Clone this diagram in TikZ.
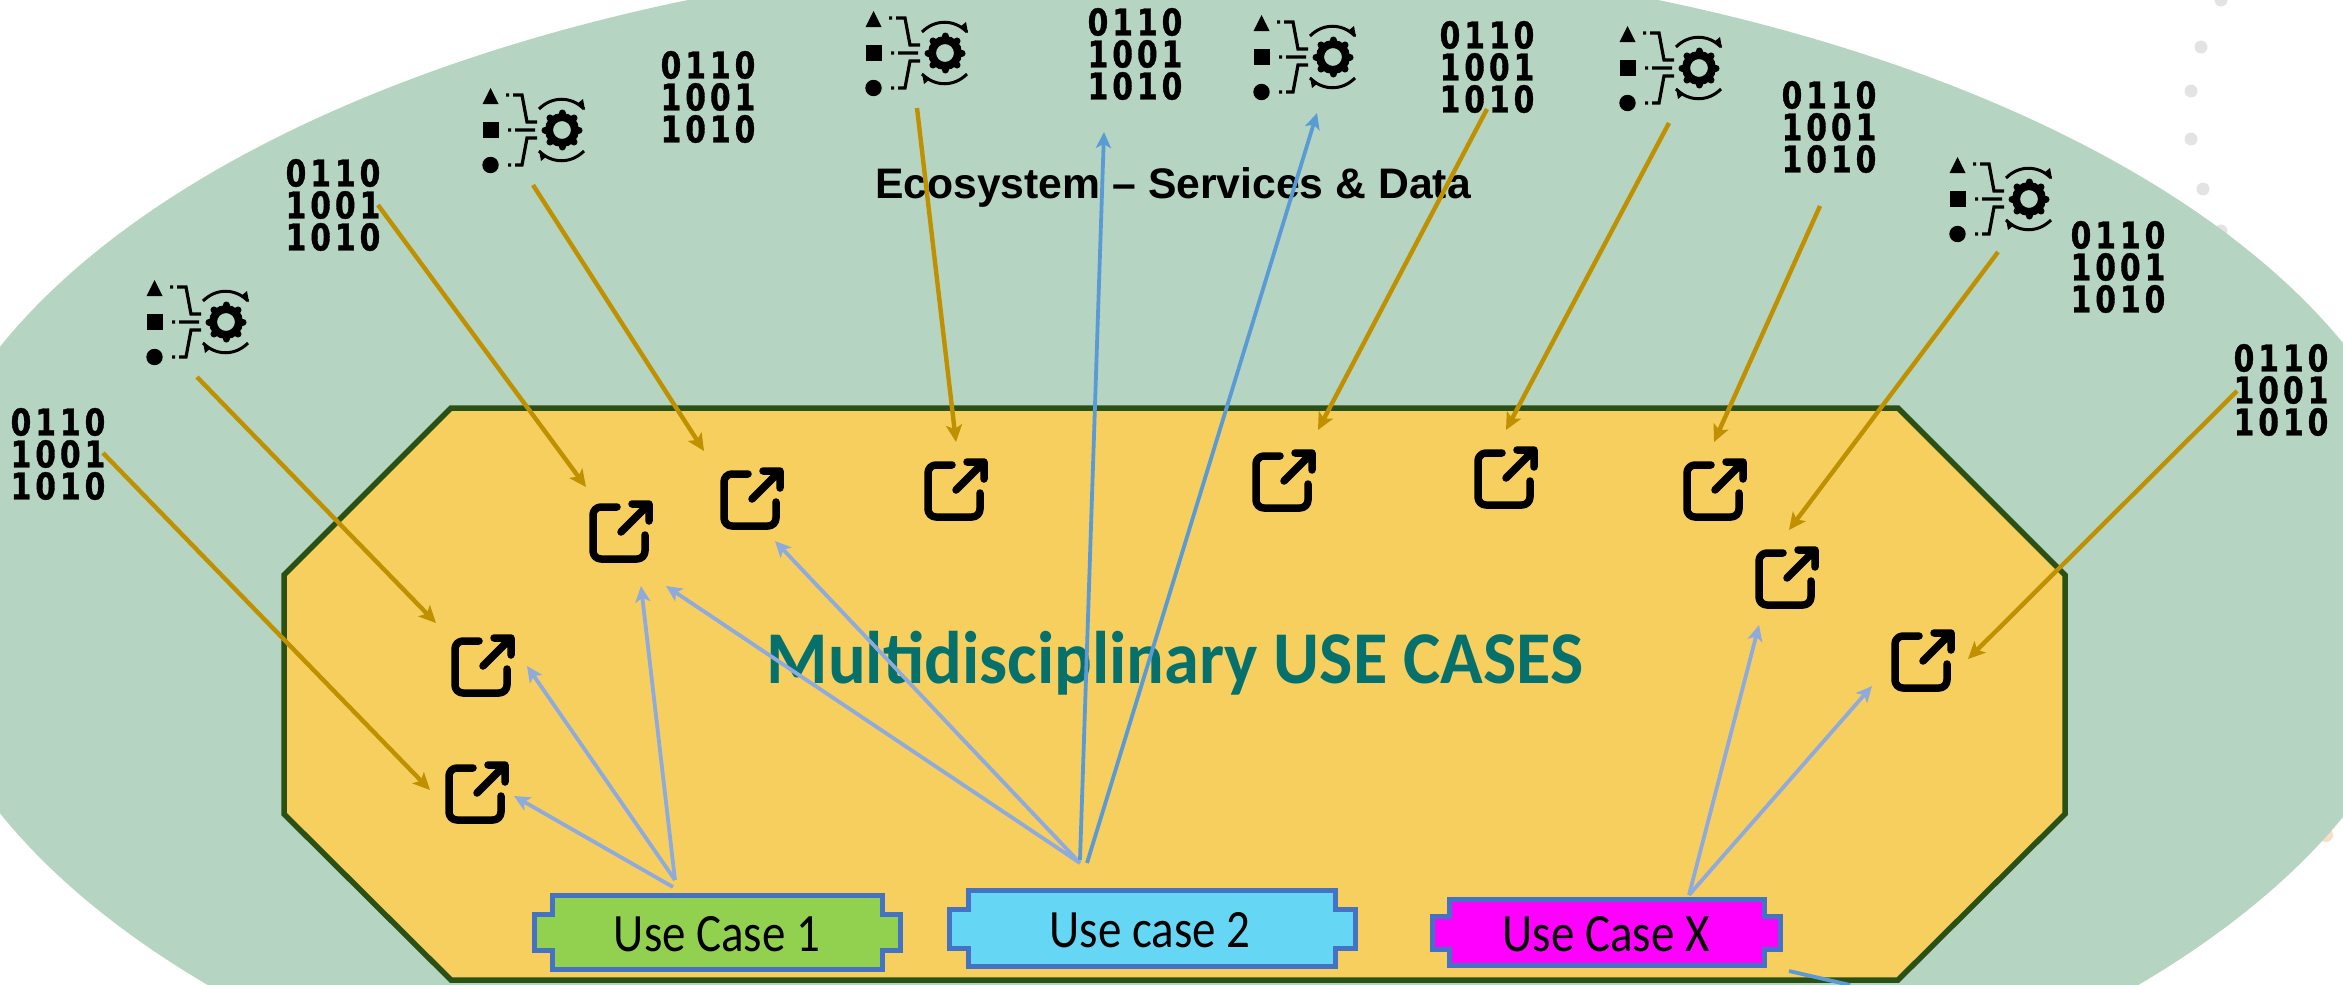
\documentclass[tikz,border=0pt]{standalone}
\usepackage{fontspec}
\usetikzlibrary{arrows.meta}
\setmainfont{Carlito}
\newfontfamily\arialfont{Liberation Sans}
\newfontfamily\binfont{DejaVu Sans}[FakeStretch=0.8,LetterSpace=11,FakeBold=1]
\newfontfamily\ucfont{Carlito}[FakeStretch=0.87]
\newfontfamily\mdfont{Carlito}[FakeStretch=0.945]
\definecolor{eco}{HTML}{B5D5C2}
\definecolor{octfill}{HTML}{F6CF5F}
\definecolor{octline}{HTML}{2B5014}
\definecolor{gold}{HTML}{BF9000}
\definecolor{bluelight}{HTML}{8FAADC}
\definecolor{bluedark}{HTML}{5B9BD5}
\definecolor{ucline}{HTML}{4472C4}
\definecolor{ucone}{HTML}{92D050}
\definecolor{uctwo}{HTML}{66D6F5}
\definecolor{ucx}{HTML}{FF00FF}
\definecolor{teal}{HTML}{05706C}
\definecolor{dotgrey}{HTML}{E3E3E3}
\definecolor{dotpeach}{HTML}{FBDCC4}
\tikzset{
  x=1pt,y=-1pt,
  binary/.style={inner sep=0pt,align=center,font={\binfont\bfseries\fontsize{37}{32}\selectfont}},
  goldarrow/.style={draw=gold,line width=4.4pt,-{Stealth[length=17pt,width=16pt,inset=4pt]}},
  lightarrow/.style={draw=bluelight,line width=3.8pt,-{Stealth[length=16pt,width=15pt,inset=4pt]}},
  darkarrow/.style={draw=bluedark,line width=3.8pt,-{Stealth[length=16pt,width=15pt,inset=4pt]}},
  ucbox/.style={draw=ucline,line width=5.5pt,miter limit=10},
  uclabel/.style={inner sep=0pt,font={\ucfont\fontsize{54}{56}\selectfont}},
  linkicon/.pic={
    \draw[black,line width=7.5pt,line cap=round,line join=round,rounded corners=8pt]
      (-4,-24) -- (-28,-24) -- (-28,28) -- (24,28) -- (24,4);
    \draw[black,line width=7.5pt,line cap=round,line join=round]
      (0,1) -- (28,-27) (11,-27) -- (28,-27) -- (28,-10);
  },
  flowicon/.pic={
    \fill[black] (-42.5,-42) -- (-34.5,-26) -- (-50.5,-26) -- cycle;
    \fill[black] (-50,-8) rectangle (-34.5,8);
    \fill[black] (-42.5,35) circle (8.2);
    \draw[black,line width=3.2pt]
      (-27,-35) -- (-24,-35) (-20,-35) -- (-11,-35) -- (-6,-8) -- (4,-8)
      (-25,0) -- (-22,0) (-18,0) -- (2,0)
      (-25,35) -- (-22,35) (-18,35) -- (-11,35) -- (-6,8) -- (4,8);
    \draw[black,line width=8pt] (29,0) circle (13);
    \foreach \a in {0,45,...,315}
      \draw[black,line width=7pt,line cap=round] (29,0) ++(\a:16) -- ++(\a:1);
    \draw[black,line width=3pt] (6,-21) .. controls (19,-34) and (38,-34) .. (51,-21);
    \draw[black,line width=3pt] (6,21) .. controls (19,34) and (38,34) .. (51,21);
    \fill[black] (52,-20) -- (50,-31) -- (44,-26) -- cycle;
    \fill[black] (6,20) -- (8,31) -- (14,26) -- cycle;
  }
}
\begin{document}
\begin{tikzpicture}
\useasboundingbox (0,0) rectangle (2343,985);
\clip (0,0) rectangle (2343,985);
% decorative dots behind the ellipse
\foreach \px/\py in {2221/0,2201/47,2191/91,2191/139,2203/189,2221/231}
  \fill[dotgrey] (\px,\py) circle (6.5);
\fill[dotpeach] (2326,835) circle (7);
% ecosystem
\fill[eco] (1173,580) ellipse [x radius=1263,y radius=628];
% use-cases octagon
\draw[fill=octfill,draw=octline,line width=5.5pt]
  (451,408) -- (1898,408) -- (2065,575) -- (2065,814) -- (1898,980)
  -- (451,980) -- (284,814) -- (284,575) -- cycle;
% titles
\node[anchor=base,inner sep=0pt,font={\arialfont\bfseries\fontsize{42.7}{48}\selectfont}] (ecotitle) at (1173,198) {Ecosystem – Services \& Data};
\node[anchor=base,inner sep=0pt,text=teal,font={\mdfont\bfseries\fontsize{74.5}{80}\selectfont}] (mdtitle) at (1175,683) {Multidisciplinary USE CASES};
% binary data icons
\node[binary] (b1) at (58,454) {0110\\1001\\1010};
\node[binary] (b2) at (333,205) {0110\\1001\\1010};
\node[binary] (b3) at (708,97) {0110\\1001\\1010};
\node[binary] (b4) at (1135,54) {0110\\1001\\1010};
\node[binary] (b5) at (1487,67) {0110\\1001\\1010};
\node[binary] (b6) at (1829,127) {0110\\1001\\1010};
\node[binary] (b7) at (2118,267) {0110\\1001\\1010};
\node[binary] (b8) at (2281,390) {0110\\1001\\1010};
% workflow icons
\pic at (197,322) {flowicon};
\pic at (533,130) {flowicon};
\pic at (916,53) {flowicon};
\pic at (1304,57) {flowicon};
\pic at (1670,68) {flowicon};
\pic at (2000,199) {flowicon};
% external-link icons
\pic at (477,792) {linkicon};
\pic at (483,665) {linkicon};
\pic at (621,531) {linkicon};
\pic at (752,498) {linkicon};
\pic at (956,489) {linkicon};
\pic at (1284,480) {linkicon};
\pic at (1506,477) {linkicon};
\pic at (1715,489) {linkicon};
\pic at (1787,577) {linkicon};
\pic at (1923,660) {linkicon};
% use cases
\draw[ucbox,fill=ucone] (552.5,895.5) -- (882.5,895.5) -- (882.5,914.5) -- (900.5,914.5) -- (900.5,950.5) -- (882.5,950.5) -- (882.5,969.5) -- (552.5,969.5) -- (552.5,950.5) -- (534.5,950.5) -- (534.5,914.5) -- (552.5,914.5) -- cycle;
\node[uclabel] (uc1) at (717,934) {Use Case 1};
\draw[ucbox,fill=uctwo] (968.5,890.5) -- (1335.5,890.5) -- (1335.5,909.5) -- (1355.5,909.5) -- (1355.5,948.5) -- (1335.5,948.5) -- (1335.5,966.5) -- (968.5,966.5) -- (968.5,948.5) -- (949.5,948.5) -- (949.5,909.5) -- (968.5,909.5) -- cycle;
\node[uclabel] (uc2) at (1150,930) {Use case 2};
\draw[ucbox,fill=ucx] (1449.5,899.5) -- (1764.5,899.5) -- (1764.5,916.5) -- (1780.5,916.5) -- (1780.5,949.5) -- (1764.5,949.5) -- (1764.5,965.5) -- (1449.5,965.5) -- (1449.5,949.5) -- (1432.5,949.5) -- (1432.5,916.5) -- (1449.5,916.5) -- cycle;
\node[uclabel] (ucxl) at (1606,934) {Use Case X};
% connector ends
\coordinate (g1s) at (103,453);  \coordinate (g1e) at (430,790);
\coordinate (g2s) at (197,377);  \coordinate (g2e) at (436,623);
\coordinate (g3s) at (378,205);  \coordinate (g3e) at (586,487);
\coordinate (g4s) at (533,185);  \coordinate (g4e) at (704,451);
\coordinate (g5s) at (917,108);  \coordinate (g5e) at (956,442);
\coordinate (g6s) at (1487,109); \coordinate (g6e) at (1318,430);
\coordinate (g7s) at (1669,123); \coordinate (g7e) at (1506,430);
\coordinate (g8s) at (1820,206); \coordinate (g8e) at (1714,442);
\coordinate (g9s) at (1998,252); \coordinate (g9e) at (1789,530);
\coordinate (g10s) at (2237,391); \coordinate (g10e) at (1968,659);
\coordinate (u1a) at (673,887); \coordinate (u1b) at (675,880);
\coordinate (u2a) at (1080,863); \coordinate (u2b) at (1080,860); \coordinate (u2c) at (1087,863);
\coordinate (uxa) at (1689,895);
\coordinate (u1e1) at (514,796); \coordinate (u1e2) at (527,666); \coordinate (u1e3) at (641,586);
\coordinate (u2e1) at (666,586); \coordinate (u2e2) at (775,541); \coordinate (u2e3) at (1104,132); \coordinate (u2e4) at (1317,113);
\coordinate (uxe1) at (1759,625); \coordinate (uxe2) at (1872,686);
\coordinate (stubs) at (1789,971); \coordinate (stube) at (1850,985);
% gold connectors
\foreach \i in {1,...,10} \draw[goldarrow] (g\i s) -- (g\i e);
% blue connectors
\draw[lightarrow] (u1a) -- (u1e1);
\draw[lightarrow] (u1b) -- (u1e2);
\draw[lightarrow] (u1b) -- (u1e3);
\draw[lightarrow] (u2a) -- (u2e1);
\draw[lightarrow] (u2a) -- (u2e2);
\draw[darkarrow] (u2b) -- (u2e3);
\draw[darkarrow] (u2c) -- (u2e4);
\draw[lightarrow] (uxa) -- (uxe1);
\draw[lightarrow] (uxa) -- (uxe2);
\draw[draw=bluedark,line width=3.8pt] (stubs) -- (stube);
\end{tikzpicture}
\end{document}
